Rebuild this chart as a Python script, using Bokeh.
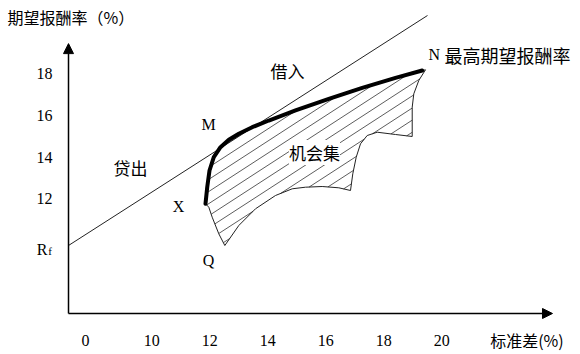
import numpy as np
from bokeh.plotting import figure
from bokeh.models import Range1d, Arrow, NormalHead, Label
from bokeh.core.properties import value
from bokeh.embed import file_html
from bokeh.resources import INLINE

# ---------------- data (sigma %, expected return %) ----------------
x_tick_values = [7.72, 10, 12, 14, 16, 18, 20]
x_tick_labels = ["0", "10", "12", "14", "16", "18", "20"]
y_tick_values = [12, 14, 16, 18]
y_tick_labels = ["12", "14", "16", "18"]
x_title = "标准差(%)"
y_title = "期望报酬率（%）"

risk_free = 9.77

axis_origin = (7.131, 6.517)
x_axis_tip = 23.82
y_axis_tip = 19.43

# capital market line from Rf
cml_sigma = [7.131, 19.51]
cml_return = [risk_free, 20.775]

# efficient frontier X -> M -> N (thick)
frontier_sigma = [11.855, 11.914, 11.993, 12.141, 12.372, 12.659, 13.003, 13.466, 14.038,
                  14.959, 16.107, 17.259, 18.407, 19.328]
frontier_return = [11.766, 12.560, 13.359, 13.995, 14.474, 14.828, 15.115, 15.431, 15.751,
                   16.230, 16.789, 17.316, 17.794, 18.144]

# rest of opportunity-set boundary N -> right edge -> bottom -> Q -> X
outline_sigma = [19.328, 19.441, 19.210, 19.038, 18.983, 18.983, 18.407, 17.776, 17.431, 17.200,
                 17.052, 16.934, 16.855, 16.452, 15.879, 15.303, 14.845, 14.269, 13.579, 13.003,
                 12.521, 12.314, 12.086, 11.969, 11.855]
outline_return = [18.144, 18.177, 17.665, 17.029, 16.388, 14.986, 15.081, 15.191, 15.033, 14.636,
                  13.995, 13.201, 12.402, 12.531, 12.593, 12.560, 12.483, 12.163, 11.526, 10.727,
                  9.770, 10.330, 11.124, 11.603, 11.766]

hatch_slope = 0.90
hatch_gap = 0.58

# ---------------- figure ----------------
p = figure(width=580, height=354, output_backend="svg", toolbar_location=None,
           x_range=Range1d(4.786, 24.786), y_range=Range1d(4.555, 21.493),
           x_axis_type=None, y_axis_type=None,
           min_border_left=0, min_border_right=0, min_border_top=0, min_border_bottom=0)
p.outline_line_color = None
p.background_fill_color = "white"
p.border_fill_color = "white"
p.xgrid.visible = False
p.ygrid.visible = False

SERIF = "Liberation Serif"
CJK = "Noto Sans CJK SC"

# hatching: parallel lines clipped to the opportunity set
poly_x = np.array(frontier_sigma + outline_sigma[1:-1])
poly_y = np.array(frontier_return + outline_return[1:-1])
u = poly_y - hatch_slope * poly_x
x0s, y0s, x1s, y1s = [], [], [], []
n = len(poly_x)
for c in np.arange(u.min() + hatch_gap * 0.5, u.max(), hatch_gap):
    xs = []
    for i in range(n):
        j = (i + 1) % n
        a, b = u[i] - c, u[j] - c
        if (a > 0) != (b > 0):
            t = a / (a - b)
            xs.append(poly_x[i] + t * (poly_x[j] - poly_x[i]))
    xs.sort()
    for xa, xb in zip(xs[0::2], xs[1::2]):
        x0s.append(xa); y0s.append(hatch_slope * xa + c)
        x1s.append(xb); y1s.append(hatch_slope * xb + c)
p.segment(x0=x0s, y0=y0s, x1=x1s, y1=y1s, line_color="#333333", line_width=0.8)

p.line(cml_sigma, cml_return, line_color="#222222", line_width=1)
p.line(outline_sigma, outline_return, line_color="#222222", line_width=1)
p.line(frontier_sigma, frontier_return, line_color="black", line_width=4,
       line_cap="round", line_join="round")

# axes with arrows
p.add_layout(Arrow(end=NormalHead(size=10, fill_color="black", line_color="black"),
                   x_start=axis_origin[0], y_start=axis_origin[1], x_end=axis_origin[0], y_end=y_axis_tip,
                   line_width=1.5, line_color="black"))
p.add_layout(Arrow(end=NormalHead(size=10, fill_color="black", line_color="black"),
                   x_start=axis_origin[0], y_start=axis_origin[1], x_end=x_axis_tip, y_end=axis_origin[1],
                   line_width=1.5, line_color="black"))

# tick labels (placed through the data scales)
x_label_row = axis_origin[1] - 1.29
y_label_col = axis_origin[0] - 0.55
p.text(x=x_tick_values, y=[x_label_row] * len(x_tick_values), text=x_tick_labels,
       text_font=value(SERIF), text_font_size="16px", text_color="black",
       text_align="center", text_baseline="middle")
p.text(x=[y_label_col] * len(y_tick_values), y=y_tick_values, text=y_tick_labels,
       text_font=value(SERIF), text_font_size="16px", text_color="black",
       text_align="right", text_baseline="middle")
p.text(x=[22.94], y=[x_label_row], text=[x_title], text_font=value(CJK), text_font_size="16px",
       text_color="black", text_align="center", text_baseline="middle")
p.text(x=[5.03], y=[20.727], text=[y_title], text_font=value(CJK), text_font_size="16px",
       text_color="black", text_align="left", text_baseline="middle")
# R_f
p.text(x=[6.217], y=[risk_free - 0.17], text=["R"], text_font=value(SERIF), text_font_size="16px",
       text_color="black", text_align="center", text_baseline="middle")
p.text(x=[6.493], y=[risk_free - 0.24], text=["f"], text_font=value(SERIF), text_font_size="11px",
       text_color="black", text_align="center", text_baseline="middle")

def lab(x, y, text, font, size, align="center", bg=None):
    l = Label(x=x, y=y, text=text, text_font=font, text_font_size=size, text_color="black",
              text_align=align, text_baseline="middle")
    if bg:
        l.background_fill_color = bg
    p.add_layout(l)

lab(14.683, 18.144, "借入", CJK, "17px")
lab(19.545, 18.909, "N", SERIF, "16px", align="left")
lab(20.097, 18.909, "最高期望报酬率", CJK, "18px", align="left")
lab(11.959, 15.56, "M", SERIF, "16px")
lab(9.269, 13.502, "贷出", CJK, "17px")
lab(10.924, 11.636, "X", SERIF, "16px")
lab(11.959, 9.053, "Q", SERIF, "16px")
lab(15.614, 14.22, "机会集", CJK, "17px", bg="white")

open("out.html", "w").write(file_html(p, INLINE))
